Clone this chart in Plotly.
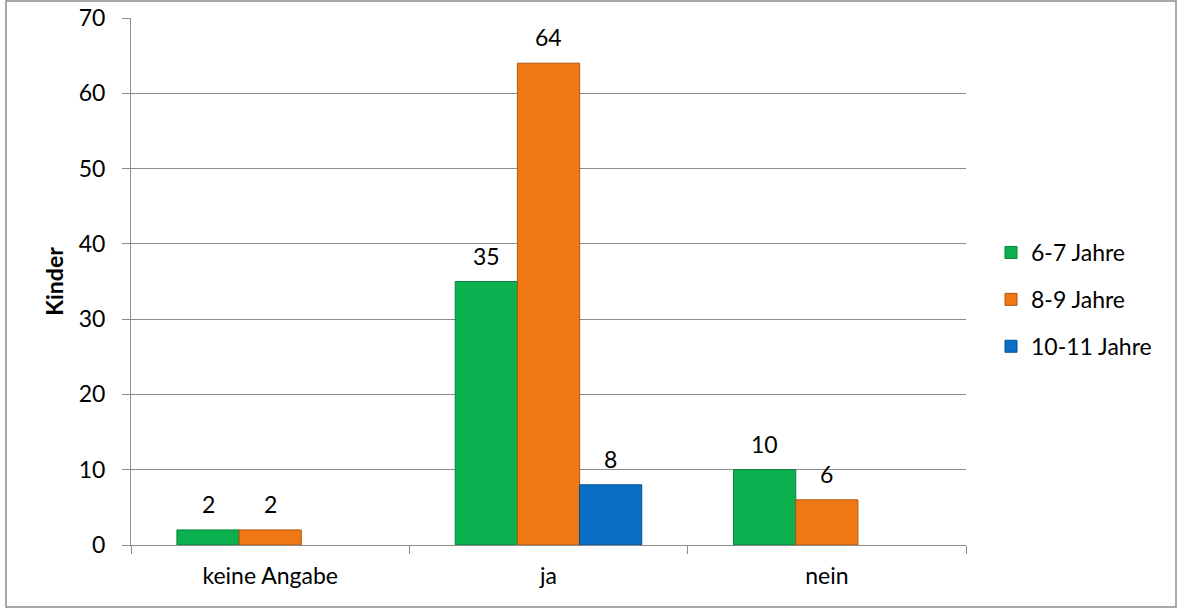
import plotly.graph_objects as go

categories = ["keine Angabe", "ja", "nein"]
series_names = ["6-7 Jahre", "8-9 Jahre", "10-11 Jahre"]
v_6_7 = [2, 35, 10]
v_8_9 = [2, 64, 6]
v_10_11 = [None, 8, None]
y_ticks = [0, 10, 20, 30, 40, 50, 60, 70]

series_values = [v_6_7, v_8_9, v_10_11]
colors = ["#0BB14E", "#F07814", "#0A70C6"]
edge_colors = ["#07803A", "#B0550C", "#064F8E"]

FONT = "Lato, Carlito, Calibri, sans-serif"
FS = 23

fig = go.Figure()
for i, (name, vals) in enumerate(zip(series_names, series_values)):
    fig.add_trace(go.Bar(
        x=categories, y=vals, name=name,
        marker=dict(color=colors[i], line=dict(color=edge_colors[i], width=1)),
        legendgroup=name,
    ))

# data labels
bar_px = 62
for i, vals in enumerate(series_values):
    for c, v in zip(categories, vals):
        if v is None:
            continue
        fig.add_annotation(x=c, y=v, text=str(v), showarrow=False,
                           xshift=(i - 1) * bar_px, yshift=10, yanchor="bottom",
                           font=dict(family=FONT, size=FS, color="#000000"))

L, R, T, B = 131, 966, 18, 545
W, H = 1182, 612
pw, ph = R - L, B - T
def px(x):
    return (x - L) / pw
def py(y):
    return (B - y) / ph

fig.add_shape(type="rect", xref="paper", yref="paper",
              x0=px(6), x1=px(1176), y0=py(607), y1=py(1),
              line=dict(color="#8C8C8C", width=1.5), fillcolor="rgba(0,0,0,0)", layer="below")

fig.update_layout(
    width=W, height=H,
    margin=dict(l=L, r=W - R, t=T, b=H - B),
    paper_bgcolor="white", plot_bgcolor="white",
    barmode="group", bargap=0.33, bargroupgap=0,
    font=dict(family=FONT, size=FS, color="#000000"),
    legend=dict(x=px(991), y=py(231), xanchor="left", yanchor="top",
                font=dict(family=FONT, size=FS), tracegroupgap=14,
                itemwidth=30, bgcolor="rgba(0,0,0,0)"),
    xaxis=dict(showline=True, linecolor="#8C8C8C", linewidth=1,
               ticks="outside", tickson="boundaries", ticklen=8, tickcolor="#8C8C8C",
               tickfont=dict(family=FONT, size=FS), showgrid=False, automargin=False,
               ticklabelstandoff=10),
    yaxis=dict(range=[0, 70], tickvals=y_ticks, showline=True, linecolor="#8C8C8C",
               linewidth=1, ticks="outside", ticklen=8, tickcolor="#8C8C8C",
               showgrid=True, gridcolor="#8C8C8C", gridwidth=1, automargin=False,
               tickfont=dict(family=FONT, size=FS), zeroline=False, ticklabelstandoff=12,
               title=dict(text="<b>Kinder</b>", font=dict(family=FONT, size=FS), standoff=8)),
)

fig.write_html("out.html", config={"displayModeBar": False},
               post_script="document.body.style.margin='0';document.body.style.overflow='hidden';")
